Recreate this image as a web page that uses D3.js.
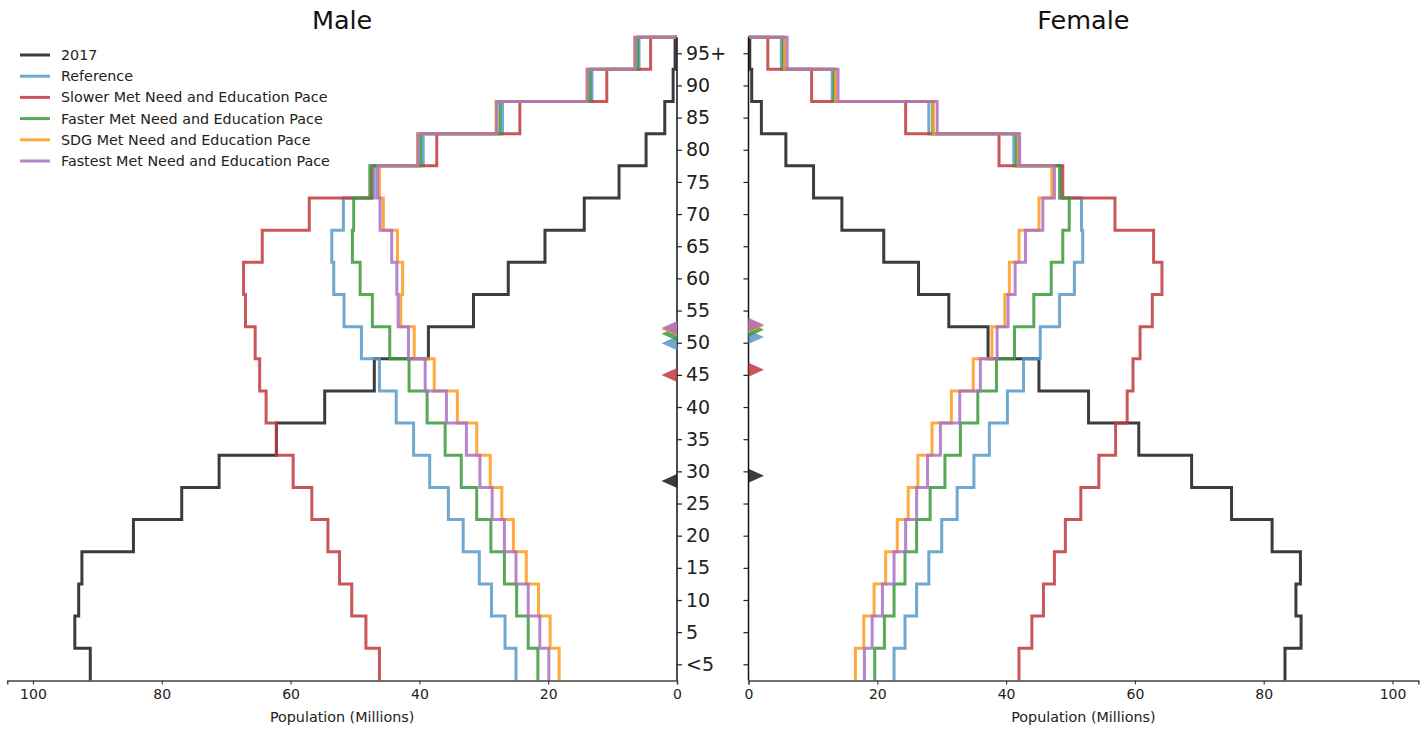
<!DOCTYPE html>
<html>
<head>
<meta charset="utf-8">
<script src="https://cdn.jsdelivr.net/npm/d3@7"></script>
<style>
  html, body { margin: 0; padding: 0; background: #fff; }
  svg { display: block; font-family: "DejaVu Sans", sans-serif; }
</style>
</head>
<body>
<svg id="chart" width="1426" height="729"></svg>
<script>
// ---- Data ----
const ageLabels = ["<5","5","10","15","20","25","30","35","40","45","50","55","60","65","70","75","80","85","90","95+"];
const seriesNames = ["2017","Reference","Slower Met Need and Education Pace","Faster Met Need and Education Pace","SDG Met Need and Education Pace","Fastest Met Need and Education Pace"];
const seriesColors = ["#1a1a1a","#5799c7","#c0393d","#3a9a3a","#ff9a1f","#a970c2"];
const xTicks = [0,20,40,60,80,100];

const male2017      = [91.1,93.5,92.9,92.4,84.4,76.9,71.1,62.2,54.7,47.0,38.6,31.6,26.2,20.5,14.4,9.0,4.8,1.9,0.6,0.3];
const maleReference = [25.0,26.7,28.8,30.7,33.2,35.5,38.4,40.9,43.6,46.2,49.0,51.7,53.3,53.6,51.8,47.0,39.4,27.1,13.2,5.9];
const maleSlower    = [46.2,48.3,50.5,52.4,54.2,56.7,59.6,62.2,63.8,64.8,65.5,67.0,67.3,64.4,57.1,47.4,37.3,24.4,10.9,4.1];
const maleFaster    = [21.6,23.1,24.9,26.8,28.9,31.1,33.5,36.0,38.8,41.6,44.6,47.3,49.2,50.4,50.2,47.7,39.8,27.5,13.5,6.1];
const maleSDG       = [18.3,19.7,21.5,23.4,25.4,27.2,29.0,31.1,34.1,37.7,40.8,42.9,42.6,43.4,45.6,46.2,40.3,28.1,14.0,6.6];
const maleFastest   = [19.9,21.3,23.1,25.0,26.8,28.7,30.6,32.7,35.8,39.1,41.7,43.3,43.5,44.3,46.1,46.5,40.2,28.0,13.9,6.5];

const female2017      = [83.3,85.8,85.0,85.7,81.3,75.0,68.8,60.6,52.8,45.1,37.2,31.1,26.4,21.0,14.5,10.1,5.8,2.0,0.5,0.2];
const femaleReference = [22.6,24.3,26.1,28.0,30.0,32.4,35.0,37.4,40.2,42.7,45.3,48.3,50.6,51.9,51.7,48.5,41.2,28.0,13.0,5.1];
const femaleSlower    = [42.0,44.0,45.8,47.5,49.2,51.6,54.4,57.0,58.8,59.7,60.8,62.7,64.2,62.9,56.9,48.8,38.9,24.4,9.8,3.0];
const femaleFaster    = [19.6,21.1,22.6,24.3,26.1,28.2,30.5,32.9,35.6,38.5,41.3,44.3,47.0,48.8,49.8,48.3,41.6,28.6,13.3,5.4];
const femaleSDG       = [16.6,17.9,19.5,21.3,23.1,24.8,26.3,28.5,31.5,34.9,37.8,39.8,40.5,42.0,45.1,47.1,41.9,28.7,13.5,5.6];
const femaleFastest   = [18.0,19.2,20.8,22.6,24.4,26.1,27.8,29.8,32.8,36.0,38.6,40.3,41.4,43.0,45.7,47.5,42.1,29.3,13.9,6.0];

// median ages (same order as seriesNames)
const maleMedian   = [28.5,49.9,45.0,51.4,52.1,52.3];
const femaleMedian = [29.3,50.9,45.8,52.0,52.6,52.8];

const maleSeries = [male2017,maleReference,maleSlower,maleFaster,maleSDG,maleFastest];
const femaleSeries = [female2017,femaleReference,femaleSlower,femaleFaster,femaleSDG,femaleFastest];

// ---- Layout ----
const svg = d3.select("#chart");
const yTop = 37.2, yBot = 680.4;
const y = d3.scaleLinear().domain([-0.5, 19.5]).range([yBot, yTop]);
const yAge = d3.scaleLinear().domain([0, 5]).range([y(0), y(1)]);

const xMale = d3.scaleLinear().domain([0, 104]).range([677, 7.2]);
const xFemale = d3.scaleLinear().domain([0, 104]).range([748.5, 1418.3]);

function stepPoints(vals) {
  const pts = [];
  vals.forEach((v, i) => { pts.push([v, i - 0.5]); pts.push([v, i + 0.5]); });
  pts.push([0, vals.length - 0.5]);
  return pts;
}

function drawPanel(x, seriesList, medians, side, title) {
  const g = svg.append("g");
  const line = d3.line().x(d => x(d[0])).y(d => y(d[1]));
  seriesList.forEach((vals, k) => {
    g.append("path")
      .attr("d", line(stepPoints(vals)))
      .attr("fill", "none")
      .attr("stroke", seriesColors[k])
      .attr("stroke-opacity", 0.85)
      .attr("stroke-width", 3)
      .attr("stroke-linejoin", "miter");
  });

  // x axis
  const xAxis = d3.axisBottom(x).tickValues(xTicks).tickSize(4).tickPadding(5).tickFormat(d3.format("d"));
  const ax = g.append("g").attr("transform", `translate(0,${yBot})`).call(xAxis);
  ax.select(".domain").attr("stroke", "#444").attr("stroke-width", 1.5);
  ax.selectAll(".tick line").attr("stroke", "#444").attr("stroke-width", 1.2);
  ax.selectAll("text").attr("font-size", 14).attr("fill", "#222").attr("font-family", "DejaVu Sans");

  // y spine with ticks
  const yAxis = (side === "left" ? d3.axisRight(y) : d3.axisLeft(y))
    .tickValues(d3.range(20)).tickSize(5).tickFormat(side === "left" ? (i => ageLabels[i]) : "");
  const ay = g.append("g").attr("transform", `translate(${x(0)},0)`).call(yAxis);
  ay.select(".domain").attr("stroke", "#111").attr("stroke-width", 1.5)
    .attr("d", `M0,${yBot}V${yTop}`);
  ay.selectAll(".tick line").attr("stroke", "#222").attr("stroke-width", 1.2);
  ay.selectAll("text").attr("font-size", 19).attr("fill", "#222").attr("font-family", "DejaVu Sans").attr("x", 9);

  // median markers
  const dir = side === "left" ? -1 : 1;
  medians.forEach((m, k) => {
    const cy = yAge(m), bx = x(0), tip = bx + dir * 15.5;
    g.append("path")
      .attr("d", `M${bx},${cy - 7}L${tip},${cy}L${bx},${cy + 7}Z`)
      .attr("fill", seriesColors[k])
      .attr("fill-opacity", 0.85);
  });

  g.append("text").attr("x", (x(0) + x(104)) / 2).attr("y", 29)
    .attr("text-anchor", "middle").attr("font-size", 25.5).attr("fill", "#111").text(title);
  g.append("text").attr("x", (x(0) + x(104)) / 2).attr("y", 722)
    .attr("text-anchor", "middle").attr("font-size", 14.3).attr("fill", "#222").text("Population (Millions)");
}

drawPanel(xMale, maleSeries, maleMedian, "left", "Male");
drawPanel(xFemale, femaleSeries, femaleMedian, "right", "Female");

// legend
const leg = svg.append("g");
seriesNames.forEach((name, k) => {
  const ly = 55 + k * 21.2;
  leg.append("line").attr("x1", 20).attr("x2", 50).attr("y1", ly).attr("y2", ly)
    .attr("stroke", seriesColors[k]).attr("stroke-opacity", 0.85).attr("stroke-width", 3);
  leg.append("text").attr("x", 61).attr("y", ly + 5).attr("font-size", 14.3).attr("fill", "#222").text(name);
});
</script>
</body>
</html>
